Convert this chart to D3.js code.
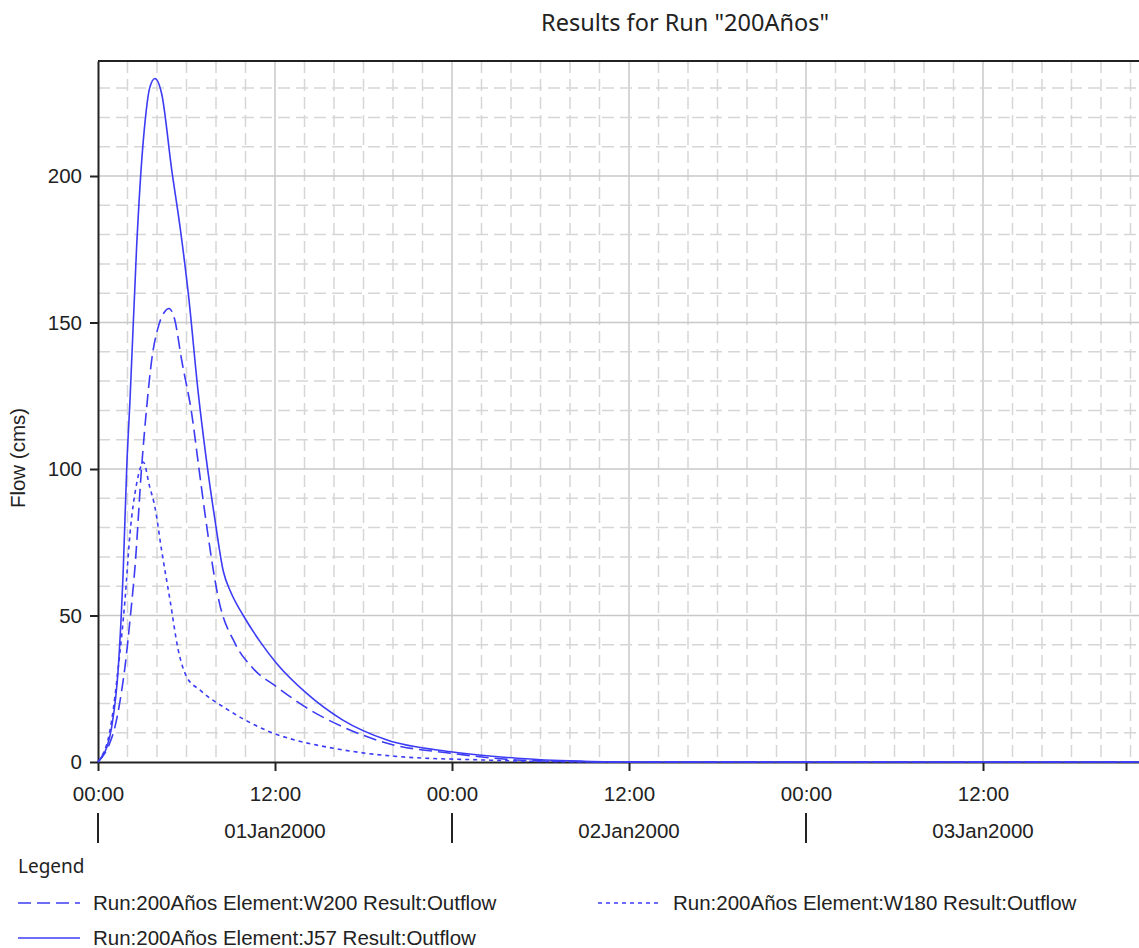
<!DOCTYPE html>
<html lang="es">
<head>
    <meta charset="utf-8">
    <script src="https://d3js.org/d3.v7.min.js"></script>
    <style>
        body { margin: 0; background: #fff; }
        svg { display: block; font-family: "Liberation Sans", Arial, sans-serif; }
    </style>
</head>
<body>
    <svg id="chart"></svg>

    <script>
        // hours after 01Jan2000 00:00, flow in cms
        const w200Hours = [0, 0.47, 0.8, 1.15, 1.5, 1.83, 2.2, 2.51, 2.96, 3.3, 3.64, 4.09, 4.5, 4.81, 5.2, 5.67, 6.35, 6.9, 7.3, 8.2, 9.29, 10.5, 12.1, 14.4, 16.6, 19.6, 23.9, 28.4, 32, 36, 72];
        const w200Flow  = [0, 3, 6.5, 12, 21, 32.5, 50, 66.7, 100.8, 121, 137.2, 148.6, 153.5, 154.8, 151, 137.2, 119, 98, 83, 55, 40.5, 32, 25.7, 17.7, 12, 6.4, 3, 0.7, 0.2, 0, 0];

        const w180Hours = [0, 0.36, 0.65, 0.93, 1.38, 1.83, 2.17, 2.62, 2.85, 3.07, 3.5, 3.86, 4.32, 4.88, 5.44, 6.01, 6.9, 8.84, 10.64, 11.9, 13.36, 15.95, 20.5, 26.1, 30, 36, 72];
        const w180Flow  = [0, 3, 7, 14.3, 32.5, 55.3, 78, 95, 100, 102.4, 94, 87, 72, 55.3, 38.2, 29.1, 24.6, 17.7, 12.6, 9.8, 7.5, 4.7, 1.8, 0.7, 0.2, 0, 0];

        const j57Hours = [0, 0.25, 0.6, 0.93, 1.38, 1.72, 1.95, 2.17, 2.62, 2.96, 3.2, 3.5, 3.86, 4.32, 5.0, 5.56, 6.12, 6.8, 7.3, 7.93, 8.5, 9.0, 9.85, 11.0, 12.1, 14.15, 16.6, 19.6, 23.9, 28.4, 32.5, 36, 72];
        const j57Flow  = [0, 1.8, 5, 12, 32.5, 66.7, 100.8, 123.5, 176, 205, 219, 230, 233.3, 228, 202, 182.7, 160, 125.8, 105, 82.6, 65, 58, 50, 41, 33.7, 23.4, 14.3, 7.5, 3.5, 1.3, 0.3, 0, 0];

        const yTicks = [0, 50, 100, 150, 200];
        const dayLabels = ["01Jan2000", "02Jan2000", "03Jan2000"];
        const legendNames = ["Run:200Años Element:W200 Result:Outflow",
                             "Run:200Años Element:W180 Result:Outflow",
                             "Run:200Años Element:J57 Result:Outflow"];

        const W = 1139, H = 948;
        const margin = { top: 61, left: 98 };
        const plotBottom = 762;
        const plotRight = 1160;   // chart runs past the window edge
        const start = Date.UTC(2000, 0, 1);
        const toDate = h => new Date(start + h * 3600e3);

        const svg = d3.select("#chart").attr("width", W).attr("height", H);

        const x = d3.scaleUtc()
            .domain([toDate(0), toDate(72)])
            .range([margin.left, plotRight]);

        const y = d3.scaleLinear()
            .domain([0, 239.25])
            .range([plotBottom, margin.top]);

        // grid
        const grid = svg.append("g");
        d3.range(2, 72, 2).forEach(h => {
            grid.append("line")
                .attr("x1", x(toDate(h))).attr("x2", x(toDate(h)))
                .attr("y1", margin.top).attr("y2", plotBottom)
                .attr("stroke", h % 12 === 0 ? "#c8c8c8" : "#d6d6d6")
                .attr("stroke-width", 1.5)
                .attr("stroke-dasharray", h % 12 === 0 ? null : "12,6");
        });
        d3.range(10, 240, 10).forEach(v => {
            grid.append("line")
                .attr("x1", margin.left).attr("x2", W)
                .attr("y1", y(v)).attr("y2", y(v))
                .attr("stroke", v % 50 === 0 ? "#c8c8c8" : "#d6d6d6")
                .attr("stroke-width", 1.5)
                .attr("stroke-dasharray", v % 50 === 0 ? null : "12,6");
        });

        // frame
        svg.append("line")
            .attr("x1", margin.left).attr("x2", W)
            .attr("y1", margin.top).attr("y2", margin.top)
            .attr("stroke", "#222").attr("stroke-width", 2);

        // axes
        const yAxis = svg.append("g")
            .attr("transform", `translate(${margin.left},0)`)
            .call(d3.axisLeft(y).tickValues(yTicks).tickSize(8).tickSizeOuter(0).tickPadding(8));
        yAxis.select(".domain").attr("stroke", "#222").attr("stroke-width", 2);
        yAxis.selectAll(".tick line").attr("stroke", "#222").attr("stroke-width", 2);
        yAxis.selectAll("text").attr("font-size", 20.5).attr("fill", "#222").attr("font-family", "Liberation Sans");

        const xAxis = svg.append("g")
            .attr("transform", `translate(0,${plotBottom})`)
            .call(d3.axisBottom(x)
                .tickValues(d3.range(0, 72, 12).map(toDate))
                .tickFormat(d3.utcFormat("%H:%M"))
                .tickSize(9).tickSizeOuter(0).tickPadding(15));
        xAxis.select(".domain").attr("stroke", "#222").attr("stroke-width", 2);
        xAxis.selectAll(".tick line").attr("stroke", "#222").attr("stroke-width", 2);
        xAxis.selectAll("text").attr("font-size", 20.5).attr("fill", "#222").attr("font-family", "Liberation Sans");

        // series, drawn over the axis line like the original
        const series = [
            { hours: w200Hours, flow: w200Flow, dash: "13,6" },
            { hours: w180Hours, flow: w180Flow, dash: "4,4" },
            { hours: j57Hours, flow: j57Flow, dash: null }
        ];
        const line = d3.line()
            .x(d => x(toDate(d[0])))
            .y(d => y(d[1]))
            .curve(d3.curveMonotoneX);

        series.forEach(s => {
            svg.append("path")
                .datum(s.hours.map((h, i) => [h, s.flow[i]]))
                .attr("fill", "none")
                .attr("stroke", "#3c3cf5")
                .attr("stroke-width", 1.6)
                .attr("stroke-dasharray", s.dash)
                .attr("d", line);
        });

        // day row
        const days = svg.append("g");
        dayLabels.forEach((lab, i) => {
            days.append("line")
                .attr("x1", x(toDate(i * 24))).attr("x2", x(toDate(i * 24)))
                .attr("y1", 813).attr("y2", 843)
                .attr("stroke", "#222").attr("stroke-width", 2);
            days.append("text")
                .attr("x", x(toDate(i * 24 + 12)))
                .attr("y", 838)
                .attr("text-anchor", "middle")
                .attr("font-size", 20.5)
                .attr("fill", "#222")
                .text(lab);
        });

        // labels
        svg.append("text")
            .attr("x", 685).attr("y", 31)
            .attr("text-anchor", "middle")
            .attr("font-family", "Noto Sans")
            .attr("font-size", 23.5)
            .attr("fill", "#222")
            .text('Results for Run "200Años"');

        svg.append("text")
            .attr("transform", "translate(25,458) rotate(-90)")
            .attr("text-anchor", "middle")
            .attr("font-size", 20.5)
            .attr("fill", "#222")
            .text("Flow (cms)");

        // legend
        const legend = svg.append("g");
        legend.append("text")
            .attr("x", 18).attr("y", 873)
            .attr("font-family", "Noto Sans")
            .attr("font-size", 19)
            .attr("fill", "#222")
            .text("Legend");

        const legendPos = [[18, 903], [598, 903], [18, 938]];
        series.forEach((s, i) => {
            const [lx, ly] = legendPos[i];
            legend.append("line")
                .attr("x1", lx).attr("x2", lx + 62)
                .attr("y1", ly).attr("y2", ly)
                .attr("stroke", "#3c3cf5")
                .attr("stroke-width", 1.6)
                .attr("stroke-dasharray", s.dash);
            legend.append("text")
                .attr("x", lx + 75).attr("y", ly + 7)
                .attr("font-size", 20.5)
                .attr("fill", "#222")
                .text(legendNames[i]);
        });
    </script>
</body>
</html>
